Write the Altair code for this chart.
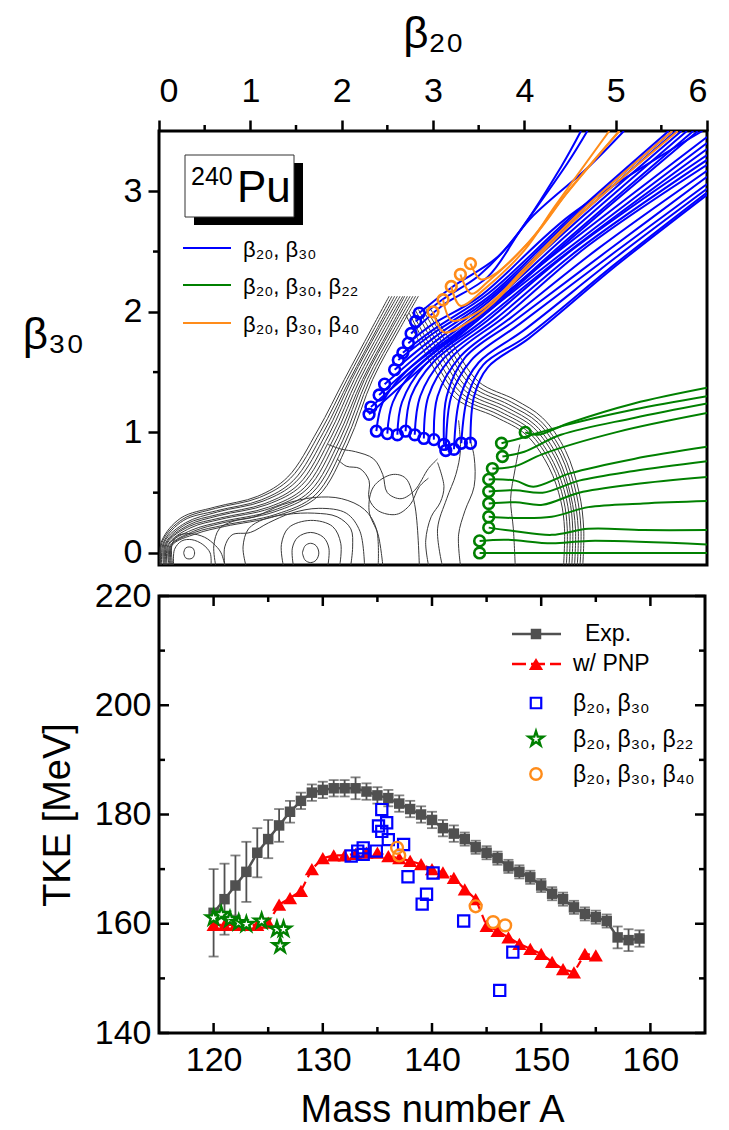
import altair as alt
import pandas as pd

FONT = "Liberation Sans"
BLUE = "#0000FF"
GREEN = "#008000"
ORANGE = "#FF8C1A"
RED = "#FF0000"
GRAY = "#505050"

# ---------------- bottom panel data ----------------
exp_A = list(range(120, 160))
exp_tke = [162.0, 164.5, 167.0, 169.5, 173.0, 175.5, 178.0, 180.5, 182.5, 184.0,
           184.5, 184.8, 184.8, 184.8, 184.2, 183.5, 183.0, 182.0, 181.0, 180.0,
           179.0, 177.5, 176.5, 175.5, 174.0, 173.0, 172.0, 170.5, 169.5, 168.5,
           167.0, 165.5, 164.5, 163.0, 161.8, 161.2, 160.5, 157.5, 157.0, 157.3]
exp_err = [8.0, 6.5, 5.5, 5.5, 4.5, 3.5, 3.0, 2.0, 1.5, 1.5,
           1.5, 1.5, 1.5, 2.0, 1.5, 1.5, 1.5, 1.5, 1.5, 1.5,
           1.5, 1.5, 1.5, 1.2, 1.2, 1.2, 1.2, 1.2, 1.2, 1.2,
           1.2, 1.2, 1.2, 1.2, 1.2, 1.2, 1.2, 2.0, 2.0, 1.5]

pnp_A = list(range(120, 156))
pnp_tke = [159.8, 159.8, 159.8, 159.8, 159.8, 160.2, 163.5, 164.7, 166.0, 170.0,
           172.0, 172.5, 172.5, 172.8, 173.0, 173.0, 172.4, 172.0, 171.5, 170.9,
           170.0, 169.4, 168.4, 166.3, 164.5, 159.6, 158.7, 157.5, 156.3, 155.4,
           154.5, 153.0, 151.7, 151.1, 154.5, 154.2]

sq_A = [132.6, 133.2, 133.7, 133.7, 134.9, 135.4, 135.1, 135.85, 135.4, 136.0,
        137.4, 137.8, 140.1, 139.5, 139.1, 142.9, 147.4, 146.2]
sq_tke = [172.4, 173.3, 173.9, 172.7, 173.3, 180.9, 177.9, 178.5, 176.9, 175.4,
          174.5, 168.6, 169.3, 165.4, 163.6, 160.5, 154.8, 147.8]

star_A = [120.0, 120.7, 121.5, 122.3, 123.0, 124.4, 125.8, 126.4, 126.1]
star_tke = [161.1, 161.7, 160.8, 160.2, 159.9, 160.5, 159.0, 159.0, 156.0]

oc_A = [136.8, 137.0, 144.0, 145.6, 146.7]
oc_tke = [173.9, 172.5, 163.2, 160.3, 159.7]

x_major = [120, 130, 140, 150, 160]
x_minor = [125, 135, 145, 155]
y_major = [140, 160, 180, 200, 220]
y_minor = [150, 170, 190, 210]

# ---------------- top panel data ----------------
# contour lines of the potential energy surface (beta20, beta30)
contours = [
    # outer wall band (left)
    ([0.01, 0.03, 0.24, 0.61, 1.08, 1.41, 1.74, 2.03, 2.32, 2.52], [-0.10, 0.10, 0.29, 0.38, 0.47, 0.63, 1.02, 1.44, 1.85, 2.13]),
    ([0.02, 0.04, 0.26, 0.62, 1.10, 1.44, 1.77, 2.06, 2.35, 2.55], [-0.10, 0.10, 0.28, 0.37, 0.46, 0.62, 1.01, 1.44, 1.85, 2.13]),
    ([0.03, 0.05, 0.27, 0.63, 1.12, 1.47, 1.80, 2.09, 2.38, 2.58], [-0.10, 0.09, 0.27, 0.35, 0.44, 0.60, 1.00, 1.44, 1.85, 2.13]),
    ([0.05, 0.06, 0.29, 0.64, 1.14, 1.50, 1.83, 2.11, 2.40, 2.61], [-0.10, 0.09, 0.25, 0.34, 0.43, 0.59, 0.99, 1.44, 1.85, 2.13]),
    ([0.06, 0.07, 0.30, 0.65, 1.16, 1.53, 1.86, 2.14, 2.43, 2.64], [-0.10, 0.08, 0.24, 0.32, 0.41, 0.57, 0.98, 1.44, 1.85, 2.13]),
    ([0.07, 0.08, 0.32, 0.66, 1.18, 1.56, 1.89, 2.17, 2.46, 2.67], [-0.10, 0.08, 0.23, 0.31, 0.40, 0.56, 0.97, 1.44, 1.85, 2.13]),
    ([0.08, 0.09, 0.33, 0.67, 1.20, 1.59, 1.92, 2.20, 2.49, 2.69], [-0.10, 0.08, 0.22, 0.29, 0.38, 0.54, 0.96, 1.44, 1.85, 2.13]),
    ([0.09, 0.10, 0.35, 0.68, 1.22, 1.62, 1.95, 2.23, 2.52, 2.72], [-0.10, 0.07, 0.21, 0.28, 0.37, 0.53, 0.95, 1.44, 1.85, 2.13]),
    ([0.11, 0.11, 0.36, 0.69, 1.24, 1.65, 1.98, 2.25, 2.54, 2.75], [-0.10, 0.07, 0.19, 0.26, 0.35, 0.51, 0.94, 1.44, 1.85, 2.13]),
    ([0.12, 0.12, 0.38, 0.70, 1.26, 1.68, 2.01, 2.28, 2.57, 2.78], [-0.10, 0.06, 0.18, 0.25, 0.34, 0.50, 0.93, 1.44, 1.85, 2.13]),
    ([0.13, 0.13, 0.39, 0.71, 1.28, 1.71, 2.04, 2.31, 2.60, 2.81], [-0.10, 0.06, 0.17, 0.23, 0.32, 0.48, 0.92, 1.44, 1.85, 2.13]),
    ([0.14, 0.14, 0.41, 0.72, 1.30, 1.74, 2.07, 2.34, 2.63, 2.84], [-0.10, 0.06, 0.16, 0.22, 0.31, 0.47, 0.91, 1.44, 1.85, 2.13]),
    # outer wall band (right)
    ([2.95, 3.20, 3.50, 3.90, 4.20, 4.45, 4.60, 4.65, 4.64], [2.05, 1.75, 1.42, 1.27, 1.12, 0.85, 0.50, 0.20, -0.10]),
    ([2.91, 3.16, 3.46, 3.86, 4.17, 4.42, 4.57, 4.62, 4.61], [2.04, 1.73, 1.40, 1.25, 1.10, 0.83, 0.49, 0.20, -0.10]),
    ([2.88, 3.13, 3.43, 3.83, 4.15, 4.40, 4.54, 4.59, 4.58], [2.03, 1.71, 1.38, 1.23, 1.08, 0.81, 0.48, 0.20, -0.10]),
    ([2.84, 3.09, 3.39, 3.80, 4.12, 4.37, 4.51, 4.56, 4.55], [2.02, 1.69, 1.36, 1.21, 1.06, 0.79, 0.47, 0.20, -0.10]),
    ([2.81, 3.06, 3.36, 3.77, 4.10, 4.35, 4.49, 4.53, 4.52], [2.01, 1.67, 1.34, 1.19, 1.04, 0.77, 0.46, 0.20, -0.10]),
    ([2.77, 3.02, 3.32, 3.74, 4.07, 4.32, 4.46, 4.50, 4.49], [2.00, 1.65, 1.32, 1.17, 1.02, 0.75, 0.45, 0.20, -0.10]),
    ([2.74, 2.99, 3.29, 3.71, 4.05, 4.30, 4.43, 4.47, 4.46], [1.99, 1.63, 1.30, 1.15, 1.00, 0.73, 0.44, 0.20, -0.10]),
    ([2.70, 2.95, 3.25, 3.68, 4.02, 4.27, 4.40, 4.44, 4.43], [1.98, 1.61, 1.28, 1.13, 0.98, 0.71, 0.43, 0.20, -0.10]),
    # ground-state minimum
    ([0.27, 0.29, 0.33, 0.37, 0.39, 0.37, 0.33, 0.29, 0.27], [0.00, 0.04, 0.05, 0.04, 0.00, -0.04, -0.05, -0.04, 0.00]),
    ([0.16, 0.17, 0.25, 0.36, 0.48, 0.56, 0.57], [-0.10, 0.03, 0.10, 0.11, 0.07, 0.00, -0.10]),
    ([0.15, 0.14, 0.20, 0.34, 0.50, 0.62, 0.68, 0.72], [-0.10, 0.06, 0.14, 0.16, 0.13, 0.06, 0.00, -0.10]),
    # isomeric minimum
    ([1.57, 1.60, 1.66, 1.72, 1.75, 1.72, 1.66, 1.60, 1.57], [0.00, 0.06, 0.08, 0.06, 0.00, -0.06, -0.08, -0.06, 0.00]),
    ([1.47, 1.46, 1.52, 1.66, 1.80, 1.86, 1.85], [-0.10, 0.04, 0.13, 0.17, 0.13, 0.04, -0.10]),
    ([1.36, 1.34, 1.42, 1.66, 1.90, 1.99, 1.98], [-0.10, 0.07, 0.21, 0.27, 0.22, 0.08, -0.10]),
    # valley contours
    ([0.72, 0.72, 0.80, 1.00, 1.20, 1.45, 1.75, 2.05, 2.20, 2.25], [-0.10, 0.05, 0.15, 0.17, 0.25, 0.33, 0.37, 0.33, 0.18, -0.10]),
    ([0.95, 0.92, 0.98, 1.15, 1.40, 1.70, 1.95, 2.10, 2.12, 2.10], [-0.10, 0.05, 0.20, 0.28, 0.32, 0.33, 0.30, 0.20, 0.05, -0.10]),
    ([0.62, 0.60, 0.66, 0.80, 1.05, 1.35, 1.70, 2.00, 2.25, 2.38, 2.40], [-0.10, 0.06, 0.20, 0.26, 0.30, 0.40, 0.46, 0.45, 0.36, 0.20, -0.10]),
    ([1.95, 2.05, 2.20, 2.30, 2.30, 2.40, 2.60, 2.75, 2.85, 2.95], [0.78, 0.72, 0.70, 0.60, 0.45, 0.35, 0.32, 0.40, 0.55, 0.62]),
    ([1.85, 2.00, 2.15, 2.35, 2.45, 2.50, 2.65, 2.80, 2.95, 3.05], [0.90, 0.86, 0.84, 0.78, 0.65, 0.50, 0.45, 0.52, 0.70, 0.78]),
    ([2.45, 2.40, 2.30, 2.35, 2.55, 2.70, 2.80, 2.85], [-0.10, 0.15, 0.35, 0.55, 0.65, 0.62, 0.40, -0.10]),
    ([2.95, 2.92, 2.98, 3.08, 3.12, 3.05], [-0.10, 0.10, 0.30, 0.42, 0.55, 0.75]),
    ([3.10, 3.05, 3.15, 3.25, 3.30, 3.28], [-0.10, 0.20, 0.45, 0.65, 0.85, 1.10]),
    ([3.30, 3.28, 3.35, 3.45, 3.45, 3.40], [-0.10, 0.15, 0.35, 0.55, 0.80, 0.95]),
    ([3.90, 3.88, 3.85, 3.90, 3.95], [-0.10, 0.20, 0.45, 0.70, 0.90]),
]

# fission paths (beta20, beta30)
blue_paths = [
    ([2.30, 3.00, 3.60, 4.50, 5.90], [1.15, 1.62, 2.00, 2.60, 3.50]),
    ([2.32, 3.00, 3.60, 4.50, 5.85], [1.21, 1.66, 2.02, 2.62, 3.50]),
    ([2.41, 3.00, 3.60, 4.50, 5.78], [1.31, 1.70, 2.05, 2.66, 3.50]),
    ([2.47, 3.00, 3.60, 4.50, 5.72], [1.40, 1.74, 2.08, 2.70, 3.50]),
    ([2.58, 3.00, 3.60, 4.50, 5.66], [1.52, 1.78, 2.10, 2.73, 3.50]),
    ([2.62, 3.00, 3.60, 4.50, 5.62], [1.60, 1.82, 2.12, 2.76, 3.50]),
    ([2.67, 3.00, 3.60, 4.50, 5.58], [1.66, 1.85, 2.15, 2.78, 3.50]),
    ([2.73, 3.00, 3.50, 4.50, 5.95], [1.74, 1.90, 2.12, 2.80, 3.50]),
    ([2.76, 3.10, 3.60, 3.96, 4.47, 4.69], [1.82, 2.05, 2.29, 2.68, 3.23, 3.50]),
    ([2.81, 3.10, 3.50, 3.90, 4.40, 4.62], [1.92, 2.10, 2.30, 2.62, 3.20, 3.50]),
    ([2.85, 3.20, 3.70, 4.10, 4.70, 5.09], [1.99, 2.20, 2.45, 2.80, 3.20, 3.50]),
    ([2.38, 2.45, 2.70, 3.30, 4.20, 6.00], [1.01, 1.25, 1.50, 1.85, 2.40, 3.45]),
    ([2.50, 2.56, 2.80, 3.40, 4.30, 6.00], [0.99, 1.25, 1.52, 1.88, 2.42, 3.40]),
    ([2.61, 2.66, 2.90, 3.50, 4.40, 6.00], [0.98, 1.25, 1.55, 1.90, 2.45, 3.35]),
    ([2.70, 2.76, 3.00, 3.60, 4.50, 6.00], [1.01, 1.30, 1.58, 1.93, 2.50, 3.30]),
    ([2.80, 2.86, 3.10, 3.70, 4.60, 6.00], [0.98, 1.30, 1.60, 1.95, 2.52, 3.26]),
    ([2.90, 2.95, 3.20, 3.80, 4.70, 6.00], [0.95, 1.30, 1.62, 1.97, 2.55, 3.22]),
    ([3.01, 3.05, 3.30, 3.85, 4.80, 6.00], [0.94, 1.30, 1.63, 1.95, 2.52, 3.17]),
    ([3.12, 3.15, 3.35, 3.90, 4.90, 6.00], [0.90, 1.30, 1.62, 1.93, 2.50, 3.12]),
    ([3.14, 3.20, 3.42, 3.95, 5.00, 6.00], [0.85, 1.30, 1.60, 1.90, 2.50, 3.06]),
    ([3.23, 3.30, 3.50, 4.00, 5.00, 6.00], [0.86, 1.30, 1.58, 1.85, 2.45, 3.02]),
    ([3.31, 3.38, 3.55, 4.03, 5.00, 6.00], [0.91, 1.30, 1.56, 1.80, 2.40, 2.99]),
    ([3.41, 3.45, 3.60, 4.05, 5.00, 6.00], [0.91, 1.30, 1.54, 1.78, 2.38, 2.97]),
]
green_paths = [
    ([4.01, 4.15, 4.50, 5.20, 6.00], [1.00, 0.98, 1.08, 1.24, 1.37]),
    ([3.75, 3.95, 4.40, 5.20, 6.00], [0.91, 0.95, 1.05, 1.19, 1.30]),
    ([3.76, 4.00, 4.40, 5.20, 6.00], [0.80, 0.84, 0.98, 1.12, 1.24]),
    ([3.65, 3.90, 4.20, 5.00, 6.00], [0.70, 0.72, 0.82, 1.00, 1.16]),
    ([3.61, 3.90, 4.10, 4.50, 5.20, 6.00], [0.61, 0.60, 0.55, 0.66, 0.78, 0.88]),
    ([3.61, 3.90, 4.20, 4.60, 5.20, 6.00], [0.51, 0.52, 0.50, 0.60, 0.68, 0.76]),
    ([3.61, 3.90, 4.20, 4.60, 5.20, 6.00], [0.41, 0.42, 0.40, 0.50, 0.57, 0.63]),
    ([3.61, 3.90, 4.30, 4.70, 5.30, 6.00], [0.30, 0.29, 0.30, 0.38, 0.41, 0.43]),
    ([3.61, 3.90, 4.30, 4.70, 5.30, 6.00], [0.21, 0.18, 0.15, 0.20, 0.19, 0.19]),
    ([3.51, 3.80, 4.30, 4.70, 6.00], [0.10, 0.11, 0.08, 0.10, 0.07]),
    ([3.51, 4.50, 6.00], [0.00, 0.00, 0.00]),
]
orange_paths = [
    ([3.00, 3.12, 3.40, 3.67, 3.98, 4.55, 5.68], [2.00, 1.83, 1.92, 2.08, 2.32, 2.76, 3.50]),
    ([3.11, 3.20, 3.45, 3.70, 4.00, 4.60, 5.62], [2.10, 1.93, 1.98, 2.12, 2.36, 2.82, 3.50]),
    ([3.20, 3.30, 3.55, 4.00, 4.33, 4.93], [2.21, 2.05, 2.18, 2.51, 2.87, 3.50]),
    ([3.30, 3.42, 3.60, 4.05, 4.45, 5.04], [2.31, 2.15, 2.25, 2.58, 2.97, 3.50]),
    ([3.41, 3.52, 3.65, 4.10, 4.50, 5.04], [2.40, 2.27, 2.30, 2.62, 3.02, 3.50]),
]

b20_major = [0, 1, 2, 3, 4, 5, 6]
b20_minor = [0.5, 1.5, 2.5, 3.5, 4.5, 5.5]
b30_major = [0, 1, 2, 3]
b30_minor = [0.5, 1.5, 2.5]


def paths_df(paths):
    rows = []
    for pid, (xs, ys) in enumerate(paths):
        for i, (a, b) in enumerate(zip(xs, ys)):
            rows.append({"b20": a, "b30": b, "pid": pid, "i": i})
    return pd.DataFrame(rows)


def starts_df(paths):
    return pd.DataFrame({"b20": [p[0][0] for p in paths], "b30": [p[1][0] for p in paths]})


one = pd.DataFrame({"a": [0]})

W1, H1 = 548, 434
W2, H2 = 546, 437

xs1 = alt.Scale(domain=[0, 6], nice=False, zero=False)
ys1 = alt.Scale(domain=[-0.1, 3.5], nice=False, zero=False)

X1 = alt.X("b20:Q", scale=xs1, axis=alt.Axis(
    orient="top", values=b20_major, format="d", title="β₂₀", titleFontSize=44,
    titlePadding=18, labelFontSize=34, labelPadding=12, tickSize=11, tickWidth=2.5,
    tickColor="black", domain=False, grid=False, labelColor="black", titleColor="black",
    titleFontWeight="normal"))
Y1 = alt.Y("b30:Q", scale=ys1, axis=alt.Axis(
    values=b30_major, format="d", title="β₃₀", titleFontSize=44, titleAngle=0,
    titleAlign="center", titleBaseline="middle", titleX=-106, titleY=204,
    labelFontSize=34, labelPadding=6, tickSize=11, tickWidth=2.5, tickColor="black",
    domain=False, grid=False, labelColor="black", titleColor="black",
    titleFontWeight="normal"))


def line_layer(paths, color, width, interp="catmull-rom"):
    return alt.Chart(paths_df(paths)).mark_line(
        color=color, strokeWidth=width, interpolate=interp, clip=True
    ).encode(x=alt.X("b20:Q", scale=xs1), y=alt.Y("b30:Q", scale=ys1),
             detail="pid:N", order="i:Q")


def circ_layer(paths, color):
    return alt.Chart(starts_df(paths)).mark_point(
        shape="circle", filled=False, color=color, strokeWidth=2.6, size=115, opacity=1
    ).encode(x=alt.X("b20:Q", scale=xs1), y=alt.Y("b30:Q", scale=ys1))


axis_base = alt.Chart(pd.DataFrame({"b20": [0.0], "b30": [0.0]})).mark_point(opacity=0).encode(x=X1, y=Y1)

minor_top = alt.Chart(pd.DataFrame({"v": b20_minor})).mark_rule(color="black", strokeWidth=2.5).encode(
    x=alt.X("v:Q", scale=xs1), y=alt.value(0), y2=alt.value(-6))
minor_left = alt.Chart(pd.DataFrame({"v": b30_minor})).mark_rule(color="black", strokeWidth=2.5).encode(
    y=alt.Y("v:Q", scale=ys1), x=alt.value(0), x2=alt.value(-6))


def txt(x, y, s, size, color="black", align="left", baseline="middle"):
    return alt.Chart(one).mark_text(text=s, fontSize=size, font=FONT, color=color,
                                    align=align, baseline=baseline).encode(
        x=alt.value(x), y=alt.value(y))


def hline(x1, x2, y, color, width=2, dash=None):
    kw = {"color": color, "strokeWidth": width}
    if dash:
        kw["strokeDash"] = dash
    return alt.Chart(one).mark_rule(**kw).encode(x=alt.value(x1), x2=alt.value(x2), y=alt.value(y))


shadow = alt.Chart(one).mark_rect(color="black").encode(
    x=alt.value(35), x2=alt.value(144), y=alt.value(32), y2=alt.value(94))
box = alt.Chart(one).mark_rect(fill="white", stroke="#333333", strokeWidth=1).encode(
    x=alt.value(26), x2=alt.value(135), y=alt.value(24), y2=alt.value(86))

top_layers = [
    axis_base,
    line_layer(contours, "#3a3a3a", 1.0),
    line_layer(green_paths, GREEN, 2.0),
    line_layer(blue_paths, BLUE, 2.0),
    line_layer(orange_paths, ORANGE, 2.0),
    circ_layer(green_paths, GREEN),
    circ_layer(blue_paths, BLUE),
    circ_layer(orange_paths, ORANGE),
    minor_top, minor_left,
    shadow, box,
    txt(32, 46, "240", 25),
    txt(78, 58, "Pu", 44),
    hline(24, 72, 117, BLUE), txt(84, 119, "β₂₀, β₃₀", 22),
    hline(24, 72, 154, GREEN), txt(84, 156, "β₂₀, β₃₀, β₂₂", 22),
    hline(24, 72, 192, ORANGE), txt(84, 194, "β₂₀, β₃₀, β₄₀", 22),
]
top = alt.layer(*top_layers).properties(width=W1, height=H1)

# ---------------- bottom panel ----------------
xs2 = alt.Scale(domain=[115, 165], nice=False, zero=False)
ys2 = alt.Scale(domain=[140, 220], nice=False, zero=False)
X2 = alt.X("A:Q", scale=xs2, axis=alt.Axis(
    values=x_major, format="d", title="Mass number A", titleFontSize=38, titlePadding=14,
    labelFontSize=34, labelPadding=10, ticks=False, domain=False, grid=False,
    labelColor="black", titleColor="black", titleFontWeight="normal"))
Y2 = alt.Y("T:Q", scale=ys2, axis=alt.Axis(
    values=y_major, format="d", title="TKE [MeV]", titleFontSize=38, titlePadding=17,
    labelFontSize=34, labelPadding=8, ticks=False, domain=False, grid=False,
    labelColor="black", titleColor="black", titleFontWeight="normal"))

exp_df = pd.DataFrame({"A": exp_A, "T": exp_tke,
                       "lo": [t - e for t, e in zip(exp_tke, exp_err)],
                       "hi": [t + e for t, e in zip(exp_tke, exp_err)]})
pnp_df = pd.DataFrame({"A": pnp_A, "T": pnp_tke})
sq_df = pd.DataFrame({"A": sq_A, "T": sq_tke})
star_df = pd.DataFrame({"A": star_A, "T": star_tke})
oc_df = pd.DataFrame({"A": oc_A, "T": oc_tke})

ex = alt.X("A:Q", scale=xs2)
STAR = "M0,-1L0.2245,-0.309L0.951,-0.309L0.363,0.118L0.588,0.809L0,0.382L-0.588,0.809L-0.363,0.118L-0.951,-0.309L-0.2245,-0.309Z"

err_rule = alt.Chart(exp_df).mark_rule(color=GRAY, strokeWidth=1.8).encode(
    x=ex, y=alt.Y("lo:Q", scale=ys2), y2="hi:Q")
cap_lo = alt.Chart(exp_df).mark_tick(color=GRAY, orient="horizontal", size=10, thickness=1.8).encode(
    x=ex, y=alt.Y("lo:Q", scale=ys2))
cap_hi = alt.Chart(exp_df).mark_tick(color=GRAY, orient="horizontal", size=10, thickness=1.8).encode(
    x=ex, y=alt.Y("hi:Q", scale=ys2))
exp_line = alt.Chart(exp_df).mark_line(color=GRAY, strokeWidth=2.5).encode(x=X2, y=Y2)
exp_pts = alt.Chart(exp_df).mark_point(shape="square", filled=True, color=GRAY, size=110, opacity=1).encode(
    x=ex, y=alt.Y("T:Q", scale=ys2))
pnp_line = alt.Chart(pnp_df).mark_line(color=RED, strokeWidth=2.2, strokeDash=[8, 5]).encode(
    x=ex, y=alt.Y("T:Q", scale=ys2))
pnp_pts = alt.Chart(pnp_df).mark_point(shape="triangle-up", filled=True, color=RED, size=200, opacity=1).encode(
    x=ex, y=alt.Y("T:Q", scale=ys2))
sq_pts = alt.Chart(sq_df).mark_point(shape="square", filled=False, color=BLUE, size=125, strokeWidth=2.2, opacity=1).encode(
    x=ex, y=alt.Y("T:Q", scale=ys2))
star_pts = alt.Chart(star_df).mark_point(shape=STAR, filled=True, fill="white", stroke=GREEN, size=240, strokeWidth=2.4, opacity=1).encode(
    x=ex, y=alt.Y("T:Q", scale=ys2))
oc_pts = alt.Chart(oc_df).mark_point(shape="circle", filled=False, color=ORANGE, size=140, strokeWidth=2.4, opacity=1).encode(
    x=ex, y=alt.Y("T:Q", scale=ys2))


def tick_rules(vals, axis, length):
    d = pd.DataFrame({"v": vals})
    if axis == "x":
        bot = alt.Chart(d).mark_rule(color="black", strokeWidth=2.5).encode(
            x=alt.X("v:Q", scale=xs2), y=alt.value(H2), y2=alt.value(H2 - length))
        tp = alt.Chart(d).mark_rule(color="black", strokeWidth=2.5).encode(
            x=alt.X("v:Q", scale=xs2), y=alt.value(0), y2=alt.value(length))
    else:
        bot = alt.Chart(d).mark_rule(color="black", strokeWidth=2.5).encode(
            y=alt.Y("v:Q", scale=ys2), x=alt.value(0), x2=alt.value(length))
        tp = alt.Chart(d).mark_rule(color="black", strokeWidth=2.5).encode(
            y=alt.Y("v:Q", scale=ys2), x=alt.value(W2), x2=alt.value(W2 - length))
    return [bot, tp]


def sym(x, y, shape, **kw):
    return alt.Chart(one).mark_point(shape=shape, opacity=1, **kw).encode(x=alt.value(x), y=alt.value(y))


leg2 = [
    hline(353, 402, 38, GRAY, 2.5),
    sym(377, 38, "square", filled=True, color=GRAY, size=110),
    txt(426, 38, "Exp.", 23),
    hline(353, 402, 68, RED, 2.5, [14, 5]),
    sym(377, 68, "triangle-up", filled=True, color=RED, size=200),
    txt(414, 68, "w/ PNP", 23),
    sym(377, 107, "square", filled=False, color=BLUE, size=110, strokeWidth=2.2),
    txt(414, 108, "β₂₀, β₃₀", 23),
    sym(377, 143, STAR, filled=True, fill="white", stroke=GREEN, size=240, strokeWidth=2.4),
    txt(414, 144, "β₂₀, β₃₀, β₂₂", 23),
    sym(377, 178, "circle", filled=False, color=ORANGE, size=130, strokeWidth=2.4),
    txt(414, 179, "β₂₀, β₃₀, β₄₀", 23),
]

bottom_layers = [
    alt.Chart(pd.DataFrame({"A": [120.0], "T": [160.0]})).mark_point(opacity=0).encode(x=X2, y=Y2),
    err_rule, cap_lo, cap_hi, exp_line, exp_pts,
    pnp_line, pnp_pts, sq_pts, star_pts, oc_pts,
] + tick_rules(x_major, "x", 10) + tick_rules(x_minor, "x", 6) + \
    tick_rules(y_major, "y", 10) + tick_rules(y_minor, "y", 6) + leg2
bottom = alt.layer(*bottom_layers).properties(width=W2, height=H2)

chart = alt.vconcat(top, bottom, spacing=5).properties(
    padding={"left": 20, "top": 10, "right": 5, "bottom": 2}
).configure_view(stroke="black", strokeWidth=3).configure_axis(
    labelFont=FONT, titleFont=FONT).configure_text(font=FONT)

chart.save("out.html", embed_options={"renderer": "svg", "actions": False})
